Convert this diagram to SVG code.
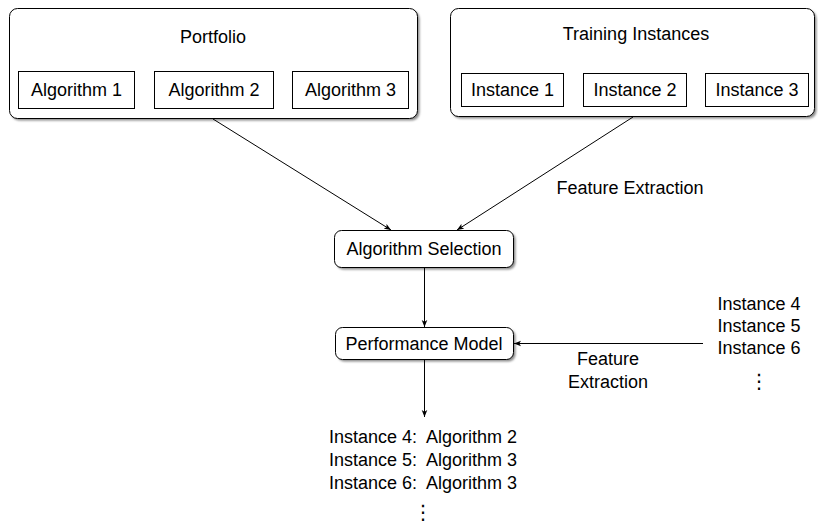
<svg xmlns="http://www.w3.org/2000/svg" width="818" height="524" viewBox="0 0 818 524">
  <defs>
    <marker id="arrow" viewBox="0 0 10 10" refX="10" refY="5" markerWidth="7" markerHeight="7" markerUnits="userSpaceOnUse" orient="auto">
      <path d="M0,1 L10,5 L0,9 L2.5,5 Z" fill="#000"/>
    </marker>
    <filter id="soft" x="-5%" y="-5%" width="110%" height="120%">
      <feGaussianBlur stdDeviation="0.8"/>
    </filter>
  </defs>
  <style>
    text { font-family: "Liberation Sans", Arial, sans-serif; font-size: 18px; fill: #000; white-space: pre; }
    .mid { text-anchor: middle; }
    .dots { font-family: "DejaVu Sans", sans-serif; font-size: 20px; }
    .shadow { fill: #8a8a8a; filter: url(#soft); }
    .group { fill: #fff; stroke: #000; stroke-width: 1; }
    .item { fill: #fff; stroke: #000; stroke-width: 1; }
    .edge { fill: none; stroke: #000; stroke-width: 1; marker-end: url(#arrow); }
  </style>
  <rect width="818" height="524" fill="#fff"/>

  <!-- Portfolio container -->
  <g id="portfolio">
    <rect class="shadow" x="11.5" y="10.5" width="408" height="110" rx="8"/>
    <rect class="group" x="9.5" y="8.5" width="408" height="110" rx="8"/>
    <text class="mid" x="213" y="43">Portfolio</text>
    <g id="algorithm1">
      <rect class="item" x="18.5" y="71.5" width="116" height="37"/>
      <text class="mid" x="76.5" y="96">Algorithm 1</text>
    </g>
    <g id="algorithm2">
      <rect class="item" x="154.5" y="71.5" width="119" height="37"/>
      <text class="mid" x="214" y="96">Algorithm 2</text>
    </g>
    <g id="algorithm3">
      <rect class="item" x="292.5" y="71.5" width="116" height="37"/>
      <text class="mid" x="350.5" y="96">Algorithm 3</text>
    </g>
  </g>

  <!-- Training instances container -->
  <g id="training">
    <rect class="shadow" x="452.5" y="10.5" width="364" height="108" rx="8"/>
    <rect class="group" x="450.5" y="8.5" width="364" height="108" rx="8"/>
    <text class="mid" x="636" y="40">Training Instances</text>
    <g id="instance1">
      <rect class="item" x="461.5" y="73.5" width="102" height="33"/>
      <text class="mid" x="512.5" y="96">Instance 1</text>
    </g>
    <g id="instance2">
      <rect class="item" x="583.5" y="73.5" width="103" height="33"/>
      <text class="mid" x="635" y="96">Instance 2</text>
    </g>
    <g id="instance3">
      <rect class="item" x="705.5" y="73.5" width="103" height="33"/>
      <text class="mid" x="757" y="96">Instance 3</text>
    </g>
  </g>

  <!-- Algorithm selection -->
  <g id="selection">
    <rect class="shadow" x="336.5" y="232.5" width="179" height="37" rx="7"/>
    <rect class="group" x="334.5" y="230.5" width="179" height="37" rx="7"/>
    <text class="mid" x="424" y="255">Algorithm Selection</text>
  </g>

  <!-- Performance model -->
  <g id="model">
    <rect class="shadow" x="337.5" y="329.5" width="178" height="32" rx="7"/>
    <rect class="group" x="335.5" y="327.5" width="178" height="32" rx="7"/>
    <text class="mid" x="424" y="350">Performance Model</text>
  </g>

  <!-- New instances -->
  <g id="new-instances">
    <text class="mid" x="759" y="310">Instance 4</text>
    <text class="mid" x="759" y="332">Instance 5</text>
    <text class="mid" x="759" y="354">Instance 6</text>
    <text class="mid dots" x="759" y="388">⋮</text>
  </g>

  <!-- Predicted output -->
  <g id="predictions">
    <text class="mid" x="423" y="443" xml:space="preserve">Instance 4:  Algorithm 2</text>
    <text class="mid" x="423" y="466" xml:space="preserve">Instance 5:  Algorithm 3</text>
    <text class="mid" x="423" y="489" xml:space="preserve">Instance 6:  Algorithm 3</text>
    <text class="mid dots" x="423" y="519">⋮</text>
  </g>

  <!-- Connectors -->
  <g id="connectors">
    <line class="edge" x1="213" y1="119" x2="391" y2="230"/>
    <line class="edge" x1="633" y1="117" x2="457" y2="230"/>
    <line class="edge" x1="424.5" y1="268" x2="424.5" y2="327"/>
    <line class="edge" x1="703" y1="343.5" x2="514" y2="343.5"/>
    <line class="edge" x1="424.5" y1="360" x2="424.5" y2="417"/>
    <text class="mid" x="630" y="194">Feature Extraction</text>
    <text class="mid" x="608" y="365">Feature</text>
    <text class="mid" x="608" y="388">Extraction</text>
  </g>
</svg>
